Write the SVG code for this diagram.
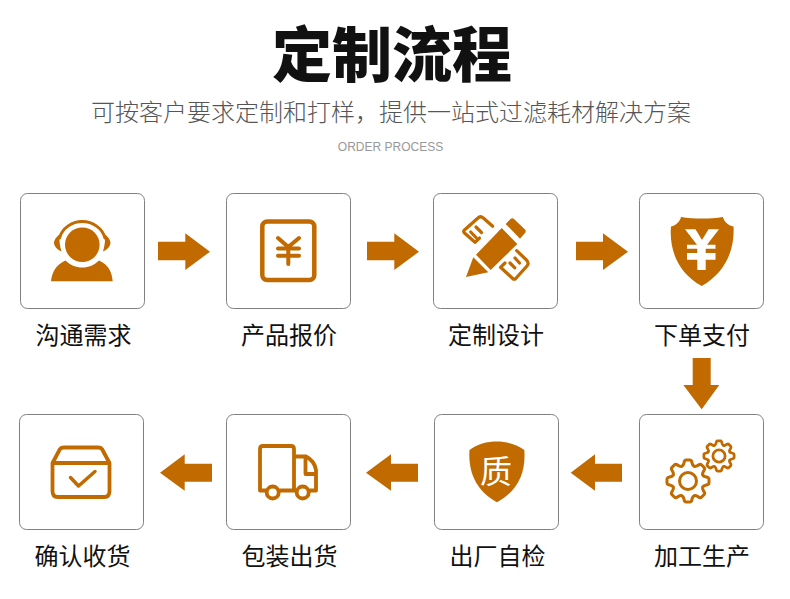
<svg xmlns="http://www.w3.org/2000/svg" width="790" height="599" viewBox="0 0 790 599">
<style>
text{font-family:"Noto Sans CJK SC","Noto Sans",sans-serif;text-anchor:middle}
.box{fill:#fff;stroke:#808080;stroke-width:1}
.lab{font-size:24px;fill:#111;font-weight:400}
.f{fill:#c06a00}
.s{fill:none;stroke:#c06a00;stroke-linecap:round;stroke-linejoin:round}
</style>
<defs>
<path id="tooth" d="M-6.100 -14.800Q-4.500 -15.500 -4.200 -17.500L-3.500 -20Q-3 -21 -2 -21H2Q3 -21 3.500 -20L4.200 -17.500Q4.500 -15.500 6.100 -14.800"/>
<g id="gear" class="s">
<use href="#tooth"/>
<use href="#tooth" transform="rotate(45)"/>
<use href="#tooth" transform="rotate(90)"/>
<use href="#tooth" transform="rotate(135)"/>
<use href="#tooth" transform="rotate(180)"/>
<use href="#tooth" transform="rotate(225)"/>
<use href="#tooth" transform="rotate(270)"/>
<use href="#tooth" transform="rotate(315)"/>
<circle r="8.500"/>
</g>
</defs>
<rect width="790" height="599" fill="#fff"/>
<g id="title">
<text x="392" y="77" font-size="60" font-weight="900" fill="#111">定制流程</text>
<text x="391" y="121" font-size="24" font-weight="300" fill="#555">可按客户要求定制和打样，提供一站式过滤耗材解决方案</text>
<text x="390.500" y="151" font-size="12" fill="#999" style="font-family:'Liberation Sans',sans-serif">ORDER PROCESS</text>
</g>
<g id="connectors" class="f">
<path d="M158 241.700H185.300V233.300L210 251.700L185.300 270V260.300H158Z"/>
<path d="M367 241.700H394.300V233.300L419 251.700L394.300 270V260.300H367Z"/>
<path d="M576 241.700H603V233.300L628 251.700L603 270V260.300H576Z"/>
<path d="M692.700 358H710.700V385H719.300L701.700 409.300L683.300 385H692.700Z"/>
<path d="M622 463.700H595V454.300L570.700 472.700L595 490.700V481.700H622Z"/>
<path d="M418 463.700H391V454.300L366 472.700L391 490.700V481.700H418Z"/>
<path d="M212 463.700H184.700V454.300L160 472.700L184.700 490.700V481.700H212Z"/>
</g>
<g id="node1">
<rect class="box" x="20.500" y="193.500" width="124" height="115" rx="7"/>
<circle class="f" cx="82.300" cy="244.700" r="17.300"/>
<path class="s" stroke-width="3" d="M59.500 238A23.500 22 0 0 1 105 238"/>
<path class="f" d="M59.500 234.500C55 238 53 242 54.500 245C55.500 248 58 250 61.500 251.500C59.800 246 59 240 59.500 234.500ZM105 234.500C109.500 238 111.500 242 110 245C109 248 106.500 250 103 251.500C104.700 246 105.500 240 105 234.500Z"/>
<path class="f" d="M51 281.300C52 272 56 265 65.500 260.500C70 265 76 267.500 82.300 267.500S94.500 265 99 260.500C108.500 265 112 272 112.700 281.300Z"/>
</g>
<g id="node2">
<rect class="box" x="226.500" y="193.500" width="124" height="115" rx="7"/>
<rect class="s" x="262.300" y="221.500" width="52" height="58.500" rx="5" stroke-width="4.500"/>
<path class="s" stroke-width="4" d="M278 238L288.300 247L299 238M288.300 247V264M278 248.500H299M278 255.700H299"/>
</g>
<g id="node3">
<rect class="box" x="433.500" y="193.500" width="124" height="115" rx="7"/>
<path class="f" d="M466 277L473.300 257.300L488.300 272.300ZM476 254.700L501.700 228L517.300 244L490.700 270ZM505.700 224L510.500 219C511.500 218 513 218 514 219L525 229.500C526 230.500 526 232 525 233L520 238.700Z"/>
<path class="s" stroke-width="3.200" d="M492.700 226.300L483.300 218C481.500 216.500 479.500 216.500 478 218L464.500 230C463.500 231 463.500 232 464.500 233L475 242.300L479.500 238M470.700 232L476 237.500M476 227L481.500 232.500"/>
<path class="s" stroke-width="3.200" d="M516.700 250.700L526.500 260C528.300 262 528.300 264.500 527 266L515.700 278.500C514.700 279.500 513.700 279.500 512.700 278.500L500.500 267.300L505 263M510 263L514.800 267.800M515 258L519.500 263"/>
</g>
<g id="node4">
<rect class="box" x="639.500" y="193.500" width="124" height="115" rx="7"/>
<path class="f" d="M671 226.500C676 225.500 680 221.500 681 217C694 219 710 219 723 217C724 221.500 728 225.500 733.500 226.500C735 250 725 273 701.700 286C678 273 669 250 671 226.500Z"/>
<path fill="#fff" d="M685 229.300H695.500L702 240L708.500 229.300H719L707 244.700H715.500V248.700H705.700V253H715.500V259.700H705.700V270H697.300V259.700H687V253H697.300V248.700H687V244.700H697Z"/>
</g>
<g id="node5">
<rect class="box" x="639.500" y="414.500" width="124" height="115" rx="7"/>
<use href="#gear" transform="translate(688 481)" stroke-width="3"/>
<use href="#gear" transform="translate(719 456)scale(.72)" stroke-width="3.800"/>
</g>
<g id="node6">
<rect class="box" x="434.500" y="414.500" width="124" height="115" rx="7"/>
<path class="f" d="M469.500 450C477 444 487 441.500 497 441.500C507 441.500 516 444 524.300 450C526 472 518 491 497 502.300C476 491 468 472 469.500 450Z"/>
<text x="496" y="483" font-size="32" fill="#fff">质</text>
</g>
<g id="node7">
<rect class="box" x="226.500" y="414.500" width="124" height="115" rx="7"/>
<path class="s" stroke-width="3.800" d="M266 490.500H260V449C260 447 261 446 263 446H291C293 446 294 447 294 449V490.500H280M294 456.500H306C311 459 315 464 316 470V490.500H310M294 490.500H296M305.500 456.500V474H316"/>
<circle class="s" stroke-width="3.800" cx="272.700" cy="492.500" r="6"/>
<circle class="s" stroke-width="3.800" cx="302.700" cy="492.500" r="6"/>
</g>
<g id="node8">
<rect class="box" x="19.500" y="414.500" width="124" height="115" rx="7"/>
<path class="s" stroke-width="3.800" d="M52.500 463L60 449C61 447.500 62 447.500 64 447.500H98C100 447.500 101 447.500 102 449L109.500 463V491C109.500 495 107.500 497 104.500 497H57.500C54.500 497 52.500 495 52.500 491ZM52.500 463H109.500"/>
<path class="s" stroke-width="3.500" d="M70.500 477.500L78.500 486L95 471.500"/>
</g>
<g id="labels" class="lab">
<text x="83.500" y="344">沟通需求</text>
<text x="289" y="344">产品报价</text>
<text x="496" y="344">定制设计</text>
<text x="702" y="344">下单支付</text>
<text x="702" y="565">加工生产</text>
<text x="497.500" y="565">出厂自检</text>
<text x="289.500" y="565">包装出货</text>
<text x="82.500" y="565">确认收货</text>
</g>
</svg>
